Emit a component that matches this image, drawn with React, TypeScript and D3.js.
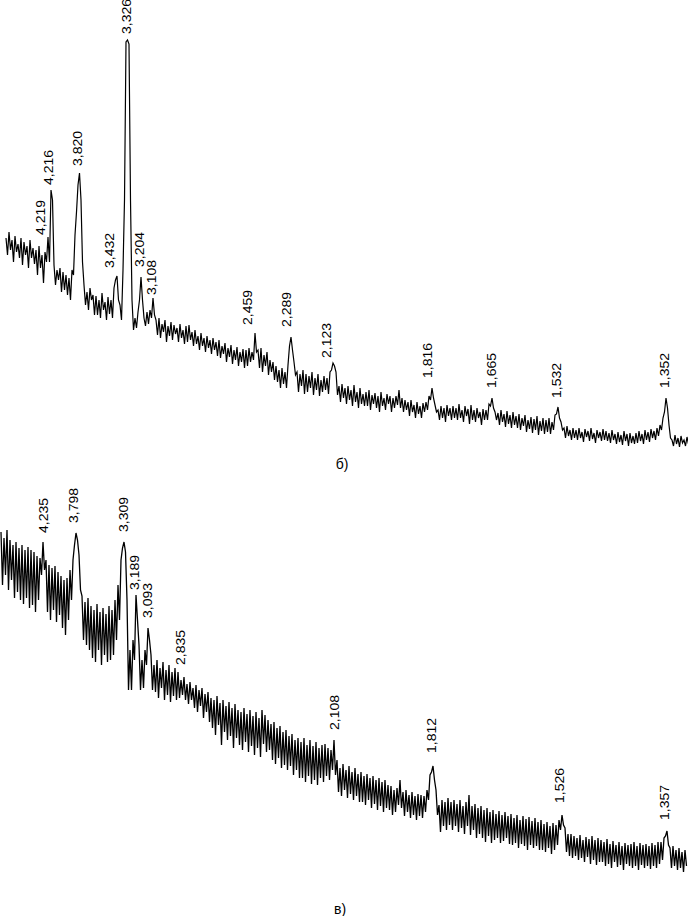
import React from "react";
import * as d3 from "d3";

// Panel б — diffraction trace, read as alternating upper / lower noise readings
// (upper readings at the channels, lower readings half a step later)
const channelsB = d3.range(6, 688, 3);
const upperB = [
  212, 218, 210, 214, 206, 212, 208, 204, 210, 202,
  200, 204, 195, 198, 213, 260, 185, 180, 182, 178,
  175, 172, 180, 215, 265, 250, 165, 158, 162, 155,
  154, 150, 157, 148, 153, 150, 162, 174, 145, 180,
  408, 406, 150, 132, 138, 173, 132, 138, 140, 152,
  130, 132, 126, 130, 124, 128, 125, 122, 126, 120,
  124, 125, 118, 120, 114, 117, 112, 114, 110, 112,
  108, 110, 104, 107, 102, 105, 100, 103, 98, 101,
  100, 102, 98, 117, 100, 102, 95, 98, 90, 88,
  84, 80, 82, 78, 85, 113, 88, 78, 76, 80,
  76, 74, 78, 72, 76, 70, 74, 72, 78, 87,
  78, 64, 66, 62, 64, 60, 65, 58, 62, 56,
  58, 60, 55, 57, 54, 58, 52, 56, 54, 52,
  54, 60, 52, 50, 48, 50, 45, 48, 44, 47,
  48, 54, 62, 45, 40, 44, 42, 45, 42, 44,
  42, 46, 40, 44, 41, 45, 40, 42, 38, 41,
  40, 46, 52, 38, 37, 40, 36, 39, 35, 38,
  34, 36, 32, 35, 30, 33, 31, 34, 29, 32,
  30, 32, 28, 35, 43, 28, 22, 24, 20, 22,
  20, 22, 18, 21, 19, 22, 17, 20, 18, 21,
  19, 17, 20, 16, 18, 15, 19, 16, 17, 14,
  17, 19, 16, 20, 18, 21, 19, 22, 25, 32,
  52, 25, 10, 15, 12, 14, 10, 13,
];
const lowerB = [
  195, 200, 188, 198, 192, 185, 195, 182, 192, 186,
  175, 182, 167, 188, 188, 250, 165, 170, 158, 160,
  155, 150, 175, 238, 277, 188, 145, 140, 150, 135,
  135, 132, 140, 130, 136, 132, 170, 150, 130, 250,
  410, 250, 120, 122, 150, 150, 124, 126, 132, 135,
  115, 112, 118, 108, 114, 110, 116, 108, 112, 106,
  108, 110, 104, 106, 100, 104, 98, 102, 96, 100,
  94, 92, 96, 88, 93, 86, 90, 84, 88, 82,
  84, 88, 90, 98, 82, 78, 84, 75, 78, 70,
  68, 62, 66, 62, 104, 100, 75, 58, 64, 56,
  58, 62, 55, 60, 54, 58, 60, 56, 80, 84,
  55, 48, 52, 46, 50, 44, 48, 42, 46, 44,
  44, 40, 46, 42, 38, 44, 40, 46, 38, 42,
  45, 42, 38, 40, 34, 38, 32, 36, 32, 38,
  40, 50, 52, 38, 30, 32, 28, 34, 30, 32,
  30, 32, 28, 34, 26, 30, 28, 32, 25, 30,
  30, 44, 42, 30, 25, 28, 23, 26, 22, 25,
  22, 20, 24, 18, 21, 17, 20, 15, 19, 16,
  18, 16, 20, 36, 32, 20, 12, 14, 10, 12,
  10, 12, 8, 13, 9, 11, 7, 12, 9, 10,
  9, 7, 10, 6, 8, 5, 9, 4, 7, 6,
  7, 9, 6, 10, 8, 12, 10, 14, 20, 38,
  42, 12, 4, 6, 3, 7, 4, 6,
];
const peakLabelsB = ["4,219", "4,216", "3,820", "3,432", "3,326", "3,204", "3,108", "2,459", "2,289", "2,123", "1,816", "1,665", "1,532", "1,352"];
const peakLabelChannelB = [41, 49, 78, 110, 127, 140, 152, 248, 287, 327, 428, 492, 557, 665];
const peakLabelLevelB = [215, 265, 284, 182, 416, 183, 155, 125, 123, 92, 72, 62, 52, 62];

// Panel в — diffraction trace
const channelsV = d3.range(1, 686, 3);
const upperV = [
  368, 362, 370, 360, 355, 358, 352, 355, 350, 353,
  350, 348, 344, 342, 358, 340, 335, 332, 334, 328,
  324, 320, 322, 330, 340, 367, 345, 304, 298, 302,
  294, 290, 296, 288, 292, 286, 294, 290, 300, 315,
  340, 358, 300, 250, 260, 305, 255, 240, 250, 272,
  245, 235, 240, 232, 238, 230, 235, 228, 232, 228,
  220, 223, 216, 218, 212, 215, 210, 212, 206, 208,
  202, 200, 204, 197, 200, 194, 198, 192, 196, 190,
  188, 192, 186, 190, 184, 188, 182, 190, 185, 180,
  176, 178, 172, 174, 168, 170, 164, 166, 160, 162,
  158, 162, 155, 160, 154, 158, 152, 155, 156, 152,
  150, 160, 140, 132, 136, 130, 134, 128, 132, 126,
  128, 124, 126, 122, 124, 120, 122, 118, 120, 115,
  114, 110, 112, 120, 108, 110, 105, 108, 104, 106,
  105, 104, 110, 125, 134, 110, 95, 100, 98, 102,
  98, 100, 96, 100, 94, 98, 105, 94, 96, 92,
  94, 90, 92, 88, 90, 86, 89, 85, 88, 84,
  86, 82, 85, 80, 84, 81, 83, 79, 82, 78,
  80, 76, 78, 74, 77, 75, 80, 85, 72, 66,
  66, 64, 62, 65, 60, 63, 61, 64, 60, 62,
  60, 58, 61, 56, 59, 55, 58, 54, 57, 55,
  56, 58, 54, 57, 55, 56, 54, 57, 55, 58,
  58, 62, 69, 52, 54, 50, 52, 48, 50,
];
const lowerV = [
  315, 325, 310, 320, 302, 308, 300, 296, 302, 292,
  295, 288, 300, 325, 330, 288, 280, 290, 278, 285,
  272, 265, 280, 300, 355, 360, 310, 260, 255, 250,
  242, 238, 250, 235, 245, 238, 240, 245, 260, 280,
  352, 348, 210, 210, 240, 280, 210, 212, 235, 260,
  210, 208, 202, 212, 200, 205, 198, 204, 200, 202,
  205, 200, 196, 200, 192, 188, 194, 182, 188, 178,
  172, 165, 175, 155, 168, 160, 164, 152, 162, 155,
  150, 158, 148, 154, 145, 152, 143, 156, 148, 150,
  140, 136, 142, 132, 135, 130, 134, 125, 130, 122,
  122, 118, 124, 116, 120, 115, 122, 118, 124, 120,
  130, 125, 108, 104, 110, 102, 106, 100, 104, 98,
  98, 95, 100, 92, 96, 90, 94, 88, 92, 90,
  85, 88, 95, 92, 84, 88, 82, 85, 80, 84,
  82, 88, 100, 128, 120, 85, 68, 74, 70, 75,
  70, 74, 68, 72, 66, 74, 65, 70, 62, 66,
  62, 58, 64, 57, 60, 62, 57, 59, 62, 56,
  55, 57, 52, 56, 54, 50, 55, 52, 54, 50,
  50, 48, 52, 46, 50, 55, 70, 75, 48, 44,
  42, 44, 40, 42, 38, 43, 36, 40, 35, 38,
  38, 34, 36, 32, 38, 33, 35, 30, 36, 34,
  32, 34, 30, 35, 32, 34, 31, 34, 32, 36,
  40, 64, 55, 32, 34, 30, 32, 28, 34,
];
const peakLabelsV = ["4,235", "3,798", "3,309", "3,189", "3,093", "2,835", "2,108", "1,812", "1,526", "1,357"];
const peakLabelChannelV = [44, 74, 124, 135, 148, 181, 335, 432, 560, 665];
const peakLabelLevelV = [367, 377, 368, 310, 282, 235, 170, 147, 97, 80];

const panelTitles = ["б)", "в)"];

const W = 688;
const H = 916;
const FONT = "'Liberation Sans', Arial, sans-serif";

type Pt = [number, number];

function interleave(ch: number[], upper: number[], lower: number[]): Pt[] {
  const halfStep = (ch[1] - ch[0]) / 2;
  return ch.flatMap((c, i) => {
    const out: Pt[] = [[c, upper[i]]];
    if (lower[i] !== undefined) out.push([c + halfStep, lower[i]]);
    return out;
  });
}

export default function App() {
  const x = d3.scaleLinear().domain([0, 688]).range([0, 688]);
  const yB = d3.scaleLinear().domain([0, 450]).range([450, 0]);
  const yV = d3.scaleLinear().domain([0, 400]).range([900, 500]);

  const ptsB = interleave(channelsB, upperB, lowerB);
  const ptsV = interleave(channelsV, upperV, lowerV);

  const lineB = d3
    .line<Pt>()
    .x((d) => x(d[0]))
    .y((d) => yB(d[1]));
  const lineV = d3
    .line<Pt>()
    .x((d) => x(d[0]))
    .y((d) => yV(d[1]));

  const label = (t: string, cx: number, by: number, key: string) => (
    <text
      key={key}
      transform={`translate(${cx + 4},${by}) rotate(-90)`}
      fontSize={12}
      fontFamily={FONT}
      textLength={35}
      lengthAdjust="spacingAndGlyphs"
      fill="#000"
    >
      {t}
    </text>
  );

  return (
    <svg
      width={W}
      height={H}
      style={{ position: "absolute", left: 0, top: 0, display: "block", background: "#fff" }}
    >
      <rect x={0} y={0} width={W} height={H} fill="#fff" />
      <path d={lineB(ptsB) || ""} fill="none" stroke="#000" strokeWidth={1.2} strokeLinejoin="miter" />
      <path d={lineV(ptsV) || ""} fill="none" stroke="#000" strokeWidth={1.3} strokeLinejoin="miter" />
      {peakLabelsB.map((t, i) => label(t, x(peakLabelChannelB[i]), yB(peakLabelLevelB[i]), "b" + i))}
      {peakLabelsV.map((t, i) => label(t, x(peakLabelChannelV[i]), yV(peakLabelLevelV[i]), "v" + i))}
      <text x={342} y={469} textAnchor="middle" fontSize={14} fontFamily={FONT}>
        {panelTitles[0]}
      </text>
      <text x={340} y={914} textAnchor="middle" fontSize={14} fontFamily={FONT}>
        {panelTitles[1]}
      </text>
    </svg>
  );
}
